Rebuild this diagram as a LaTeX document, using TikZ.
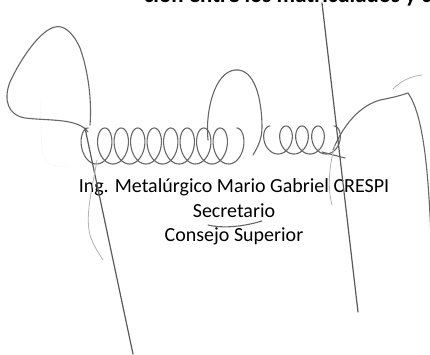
\documentclass[tikz,border=0pt]{standalone}
\usepackage{fontspec}
\setmainfont{Carlito}

\begin{document}
\begin{tikzpicture}[x=1pt, y=-1pt,
	sig/.style={gray!80!black, line width=1.1pt, line cap=round},
	sigdark/.style={black!65, line width=1.2pt, line cap=round},
	siglight/.style={gray!60, line width=0.8pt, line cap=round},
	sigfaint/.style={gray!30, line width=0.5pt, dotted}]

	\useasboundingbox (0,0) rectangle (430,354);
	\clip (0,0) rectangle (430,354);

	% Text

	\node [anchor=base east, inner sep=0, font=\fontsize{22.8}{26}\selectfont\bfseries] (head) at (431,2.5) {ción entre los matriculados y c};

	\node [align=center, font=\fontsize{20}{24.5}\selectfont] (firma) at (234,212) {Ing. Metalúrgico Mario Gabriel CRESPI\\Secretario\\Consejo Superior};

	% Big loop

	\draw [sig] (90,125) .. controls (92,100) and (88,70) .. (80,48) .. controls (72,30) and (62,25) .. (55,27)
		.. controls (40,30) and (20,60) .. (10,82) .. controls (3,100) and (8,115) .. (25,118)
		.. controls (50,121) and (78,118) .. (88,132);

	\draw [sigfaint] (40,100) .. controls (42,130) and (40,150) .. (45,160) .. controls (50,166) and (60,167) .. (70,166);

	% Coils

	\draw [sig] plot [variable = \t, domain = 180 : 3420, samples = 400] ({80 + \t / 360 * 16.5 + 11 * sin(\t)}, {146 + 18 * cos(\t)});

	\draw [sig] (208,140) .. controls (205,110) and (215,72) .. (235,70) .. controls (255,68) and (262,100) .. (262,128)
		.. controls (262,140) and (256,150) .. (253,155);

	\draw [sig] plot [variable = \t, domain = 180 : 1620, samples = 200] ({262 + \t / 360 * 16 + 10 * sin(\t)}, {140 + 14 * cos(\t)});

	\draw [sig] (322,152) -- (345,158);

	% Right strokes

	\draw [sig] (333,150) .. controls (345,120) and (365,102) .. (385,99) .. controls (395,97) and (402,95) .. (408,93)
		.. controls (420,110) and (428,150) .. (431,240);

	\draw [siglight] (393,89) .. controls (402,80) and (412,76) .. (422,75);

	\draw [siglight] (335,145) .. controls (328,170) and (328,190) .. (332,205);

	% Long lines

	\draw [sigdark] (322,3) -- (358,312);

	\draw [sigdark] (85,128) -- (133,354);

	\draw [siglight] (97,160) .. controls (92,190) and (85,215) .. (90,235) .. controls (93,245) and (98,252) .. (103,260);

	% Underline

	\draw [sig] (208,225) .. controls (225,229) and (245,226) .. (262,221);

\end{tikzpicture}
\end{document}
